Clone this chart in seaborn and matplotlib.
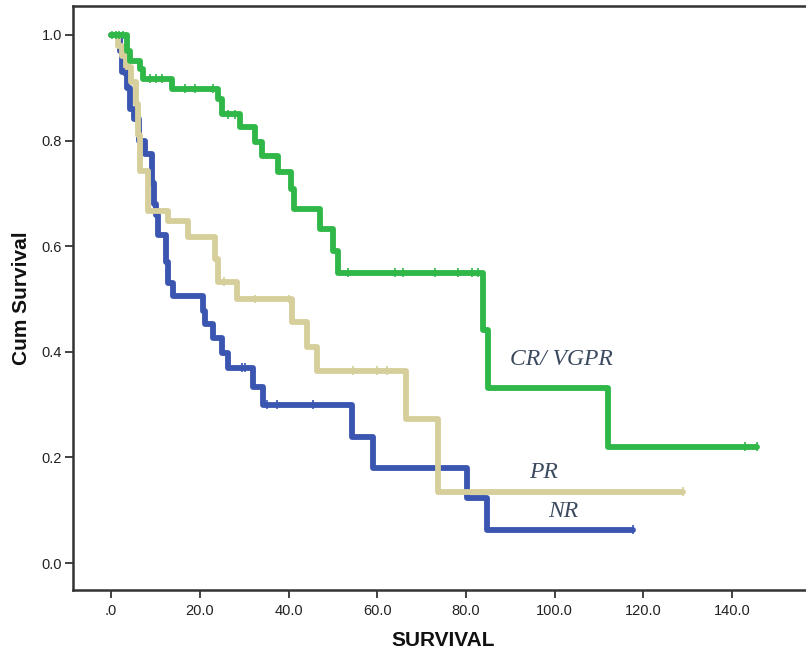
import numpy as np
import pandas as pd
import matplotlib
matplotlib.use("Agg")
import matplotlib.pyplot as plt
from matplotlib.ticker import FuncFormatter
import seaborn as sns

# Kaplan-Meier curves (time, survival after each step)
cr_times = [0, 3.6, 4.3, 6.5, 7.2, 13.8, 24.1, 25.0, 29.0, 32.5, 34.1, 37.7,
            40.6, 41.3, 47.1, 50.1, 51.2, 83.9, 85.0, 112.1, 145.7]
cr_surv = [1.0, 0.97, 0.95, 0.935, 0.917, 0.898, 0.878, 0.85, 0.825, 0.797, 0.77,
           0.74, 0.708, 0.67, 0.632, 0.59, 0.55, 0.442, 0.332, 0.22, 0.22]
cr_censor = [0.3, 1.0, 1.8, 2.6, 8.8, 10.0, 11.5, 16.7, 19.0, 23.0, 26.4, 28.0,
             53.4, 64.0, 65.8, 73.0, 78.2, 81.4, 82.8, 143.0, 145.7]

pr_times = [0, 1.5, 2.5, 3.4, 4.5, 5.6, 6.0, 6.5, 8.3, 12.9, 17.4, 23.4, 24.2,
            28.4, 40.8, 44.2, 46.5, 66.4, 73.8, 129.0]
pr_surv = [1.0, 0.98, 0.96, 0.94, 0.91, 0.87, 0.81, 0.742, 0.666, 0.647, 0.617,
           0.575, 0.533, 0.50, 0.457, 0.41, 0.364, 0.273, 0.135, 0.135]
pr_censor = [25.5, 32.5, 40.0, 54.6, 60.0, 62.2, 129.0]

nr_times = [0, 2.0, 2.5, 3.6, 4.3, 5.2, 6.3, 7.7, 9.2, 9.7, 10.1, 10.6, 12.4,
            12.9, 14.0, 20.7, 21.2, 23.0, 25.0, 26.4, 32.0, 34.3, 54.3, 59.1,
            80.3, 84.8, 117.7]
nr_surv = [1.0, 0.97, 0.93, 0.90, 0.86, 0.84, 0.80, 0.775, 0.72, 0.68, 0.66, 0.622,
           0.57, 0.531, 0.505, 0.477, 0.452, 0.427, 0.398, 0.37, 0.334, 0.30,
           0.239, 0.18, 0.123, 0.063, 0.063]
nr_censor = [2.8, 29.5, 30.2, 35.2, 37.4, 45.5, 117.7]

groups = ["NR", "PR", "CR/ VGPR"]
colors = {"CR/ VGPR": "#2fb748", "PR": "#d6cf9b", "NR": "#3b56b1"}

x_ticks = [0, 20, 40, 60, 80, 100, 120, 140]
y_ticks = [0.0, 0.2, 0.4, 0.6, 0.8, 1.0]

series = {
    "CR/ VGPR": (cr_times, cr_surv, cr_censor),
    "PR": (pr_times, pr_surv, pr_censor),
    "NR": (nr_times, nr_surv, nr_censor),
}

curve_rows = []
cens_rows = []
for g in groups:
    t, s, c = series[g]
    for ti, si in zip(t, s):
        curve_rows.append({"time": ti, "surv": si, "group": g})
    t_arr = np.array(t)
    for ci in c:
        idx = np.searchsorted(t_arr, ci, side="right") - 1
        cens_rows.append({"time": ci, "surv": s[idx], "group": g})
curves = pd.DataFrame(curve_rows)
cens = pd.DataFrame(cens_rows)

sns.set_style("ticks")
plt.rcParams["font.family"] = ["Liberation Sans", "DejaVu Sans"]

fig = plt.figure(figsize=(8.06, 6.57), dpi=100)
ax = fig.add_axes([0.0906, 0.102, 0.9094, 0.889])

sns.lineplot(data=curves, x="time", y="surv", hue="group", hue_order=groups,
             palette=colors, estimator=None, sort=False, drawstyle="steps-post",
             linewidth=4.2, legend=False, ax=ax)
sns.scatterplot(data=cens, x="time", y="surv", hue="group", hue_order=groups,
                palette=colors, marker="|", s=40, linewidth=1.2, legend=False,
                ax=ax, zorder=5)

ax.set_xlim(-8.6, 156.7)
ax.set_ylim(-0.051, 1.055)
ax.set_xticks(x_ticks)
ax.set_yticks(y_ticks)
ax.xaxis.set_major_formatter(FuncFormatter(lambda v, p: f"{v:.1f}".lstrip("0") if v == 0 else f"{v:.1f}"))
ax.yaxis.set_major_formatter(FuncFormatter(lambda v, p: f"{v:.1f}"))
ax.tick_params(axis="both", length=6, width=1.2, colors="#222222", labelsize=10.5, pad=2)
ax.tick_params(axis="x", pad=4)

for side in ["left", "top", "bottom"]:
    ax.spines[side].set_linewidth(1.8)
    ax.spines[side].set_color("#333333")
ax.spines["right"].set_visible(False)

ax.set_xlabel("SURVIVAL", fontsize=15, fontweight="bold", color="#111111")
ax.set_ylabel("Cum Survival", fontsize=15, fontweight="bold", color="#111111")
ax.xaxis.set_label_coords(0.505, -0.071)
ax.yaxis.set_label_coords(-0.058, 0.5)

label_style = dict(fontsize=17, style="italic", color="#3c4a5f",
                   family=["Liberation Serif", "DejaVu Serif"], ha="center", va="center")
ax.text(101.5, 0.385, "CR/ VGPR", **label_style)
ax.text(97.4, 0.171, "PR", **label_style)
ax.text(101.9, 0.097, "NR", **label_style)

fig.savefig("out.png", dpi=100)
